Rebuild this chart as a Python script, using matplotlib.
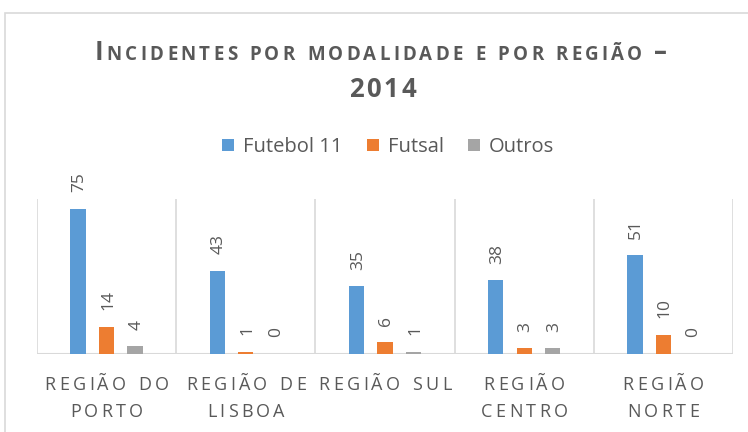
import matplotlib
matplotlib.use("Agg")
import matplotlib.pyplot as plt
from matplotlib.patches import Rectangle
import numpy as np

plt.rcParams['font.family'] = ['Open Sans', 'DejaVu Sans']

# --- DATA ---
regioes = ["REGIÃO DO\nPORTO", "REGIÃO DE\nLISBOA", "REGIÃO SUL",
           "REGIÃO\nCENTRO", "REGIÃO\nNORTE"]
futebol11 = [75, 43, 35, 38, 51]
futsal = [14, 1, 6, 3, 10]
outros = [4, 0, 1, 3, 0]
series_names = ["Futebol 11", "Futsal", "Outros"]
colors = ['#5B9BD5', '#ED7D31', '#A5A5A5']
txt = '#595959'
grid = '#D9D9D9'

W, H = 748, 432
fig = plt.figure(figsize=(W / 100, H / 100), dpi=100)
renderer = fig.canvas.get_renderer()

# outer chart border
fig.patches.append(Rectangle((5 / W, -0.05), 1.0, 1 - 13 / H + 0.05,
                             transform=fig.transFigure, fill=False,
                             edgecolor=grid, lw=1.2))

ax_l, ax_r, ax_b, ax_t = 37, 733, 354, 199
ax = fig.add_axes([ax_l / W, 1 - ax_b / H, (ax_r - ax_l) / W, (ax_b - ax_t) / H])

x = np.arange(len(regioes))
bw = 0.11
offs = [-0.205, 0.0, 0.205]
for vals, off, c, name in zip([futebol11, futsal, outros], offs, colors, series_names):
    bars = ax.bar(x + off, vals, bw, color=c, label=name, zorder=3)
    for b, v in zip(bars, vals):
        ax.annotate(str(v), (b.get_x() + b.get_width() / 2, v),
                    xytext=(1, 12), textcoords='offset points',
                    rotation=90, ha='center', va='bottom',
                    fontsize=12.5, color=txt)

ax.set_xlim(-0.5, len(regioes) - 0.5)
ax.set_ylim(0, 80)
for s in ax.spines.values():
    s.set_visible(False)
ax.axhline(0, color=grid, lw=1.5, zorder=2)
for b in np.arange(-0.5, len(regioes), 1.0):
    ax.axvline(b, color=grid, lw=1.2, zorder=1)
ax.set_xticks([])
ax.set_yticks([])

# legend
fig.legend(loc='center', bbox_to_anchor=(388 / W, 1 - 147 / H), ncol=3,
           frameon=False, fontsize=14.5, handlelength=0.6, handleheight=0.6,
           handletextpad=0.45, columnspacing=1.2, labelcolor=txt)


def tracked(pieces, cx, base_y, target=None, track=0.0, **kw):
    """Draw letter-spaced text (one text per char), centred on cx (pixels)."""
    texts, widths = [], []
    for ch, size in pieces:
        if ch == ' ':
            texts.append(None)
            widths.append(size * 100 / 72 * 0.3)
            continue
        t = fig.text(0, 1 - base_y / H, ch, fontsize=size, va='baseline',
                     ha='left', color=txt, **kw)
        texts.append(t)
        widths.append(t.get_window_extent(renderer).width)
    n = len(pieces)
    if target is not None:
        track = (target - sum(widths)) / (n - 1)
    xpos = cx - (sum(widths) + track * (n - 1)) / 2
    for t, w in zip(texts, widths):
        if t is not None:
            t.set_x(xpos / W)
        xpos += w + track
    return track


# small-caps title
big, small = 18.5, 13.5
line1 = [("I", big)] + [(c, small) for c in "NCIDENTES POR MODALIDADE E POR REGIÃO"] \
    + [(" ", small), ("–", big)]
tracked(line1, 381, 60, target=572, fontweight='bold')
tracked([(c, big) for c in "2014"], 382.5, 97, target=67, fontweight='bold')

# letter-spaced category labels
lab_size = 13
cw = (ax_r - ax_l) / len(regioes)
trk = None
for i, r in enumerate(regioes):
    cx = ax_l + (i + 0.5) * cw
    for j, line in enumerate(r.split("\n")):
        pieces = [(c, lab_size) for c in line]
        if trk is None:
            trk = tracked(pieces, cx, 390, target=124)
        else:
            tracked(pieces, cx, 390 + 27 * j, track=trk)

fig.savefig("out.png", dpi=100)
